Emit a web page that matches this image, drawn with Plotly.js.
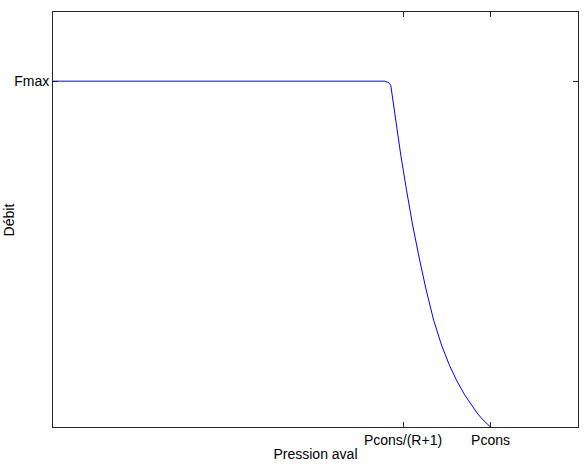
<!DOCTYPE html>
<html>
<head>
<meta charset="utf-8">
<script src="https://cdn.plot.ly/plotly-3.0.1.min.js"></script>
<style>html,body{margin:0;padding:0;background:#fff;}#chart{width:584px;height:470px;}</style>
</head>
<body>
<div id="chart"></div>
<script>
// Pressure (downstream) in units of Pcons, flow in units of Fmax
const pression = [0, 0.758, 0.765, 0.769, 0.772, 0.783, 0.795, 0.808, 0.822, 0.838, 0.853, 0.870, 0.888, 0.906, 0.922, 0.941, 0.956, 0.969, 0.981, 0.989, 0.997, 1.000];
const debit    = [1, 1.000, 0.997, 0.994, 0.988, 0.887, 0.786, 0.685, 0.584, 0.483, 0.396, 0.309, 0.237, 0.179, 0.136, 0.093, 0.064, 0.041, 0.023, 0.012, 0.003, 0.000];

const xTickVals = [0.8, 1.0];
const xTickText = ['Pcons/(R+1)', 'Pcons'];
const yTickVals = [1.0];
const yTickText = ['Fmax'];
const xTitle = 'Pression aval';
const yTitle = 'Débit';

const font = {family: 'Liberation Sans, Arial, sans-serif', size: 14, color: '#000'};

Plotly.newPlot('chart', [{
  x: pression, y: debit, type: 'scatter', mode: 'lines',
  line: {color: '#0000ff', width: 1}, hoverinfo: 'none'
}], {
  width: 584, height: 470,
  margin: {l: 53, r: 6, t: 12, b: 43},
  paper_bgcolor: '#fff', plot_bgcolor: '#fff',
  showlegend: false,
  font: font,
  xaxis: {
    range: [0, 1.2], tickvals: xTickVals, ticktext: xTickText,
    ticks: 'inside', ticklen: 5, tickcolor: '#262626', tickwidth: 1,
    showline: true, linecolor: '#262626', linewidth: 1, mirror: 'ticks',
    showgrid: false, zeroline: false, tickfont: font,
    title: {text: xTitle, font: font, standoff: 2}
  },
  yaxis: {
    range: [0, 1.2], tickvals: yTickVals, ticktext: yTickText,
    ticks: 'inside', ticklen: 5, tickcolor: '#262626', tickwidth: 1,
    showline: true, linecolor: '#262626', linewidth: 1, mirror: 'ticks',
    showgrid: false, zeroline: false, tickfont: font
  },
  annotations: [{
    text: yTitle, textangle: -90, xref: 'paper', yref: 'paper',
    x: -0.084, y: 0.5, xanchor: 'center', yanchor: 'middle',
    showarrow: false, font: font
  }]
}, {displayModeBar: false, staticPlot: true});
</script>
</body>
</html>
